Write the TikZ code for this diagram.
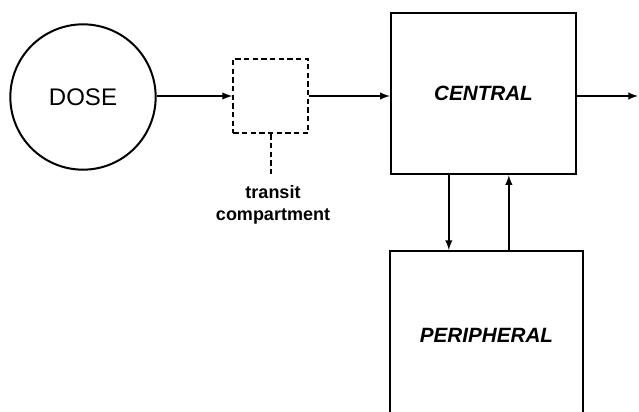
\documentclass[tikz,border=0pt]{standalone}
\usepackage{fontspec}
\setmainfont{Liberation Sans}
\usepackage{tikz}
\usetikzlibrary{positioning}

\begin{document}
\begin{tikzpicture}[x=0.75pt,y=-0.75pt,-latex,line width=1.5pt,
  dose/.style={circle,draw,minimum size=109pt,inner sep=0pt,font=\fontsize{18}{22}\selectfont},
  transit/.style={rectangle,draw,dashed,dash pattern=on 4pt off 2.5pt,minimum size=56pt},
  comp/.style={rectangle,draw,inner sep=0pt,font=\fontsize{15.5}{18}\selectfont\bfseries\itshape},
  label/.style={align=center,font=\fontsize{13.5}{16.5}\selectfont\bfseries}]
\useasboundingbox (0,0) rectangle (639,411);
\clip (0,0) rectangle (639,411);
\node[dose] (dose) at (83,97) {DOSE};
\node[transit] (transit) at (270.5,96) {};
\node[comp,minimum width=139pt,minimum height=121pt] (central) at (483.5,93.5) {CENTRAL};
\node[comp,minimum width=145pt,minimum height=126pt] (peripheral) at (486.5,335) {PERIPHERAL};
\node[label] (tlabel) at (273,205) {transit\\compartment};
\coordinate (tfoot) at (270.5,177);
\coordinate (out) at (638,96);
% connections
\draw (dose.east |- transit) -- (transit);
\draw (transit.east) -- (transit.east -| central.west);
\draw (central.east |- out) -- (out);
\draw[-,dashed,dash pattern=on 4pt off 2.5pt] (transit.south) -- (tfoot);
\draw ([xshift=-26pt]central.south) -- ([xshift=-26pt]central.south |- peripheral.north);
\draw ([xshift=19pt]central.south |- peripheral.north) -- ([xshift=19pt]central.south);
\end{tikzpicture}
\end{document}
